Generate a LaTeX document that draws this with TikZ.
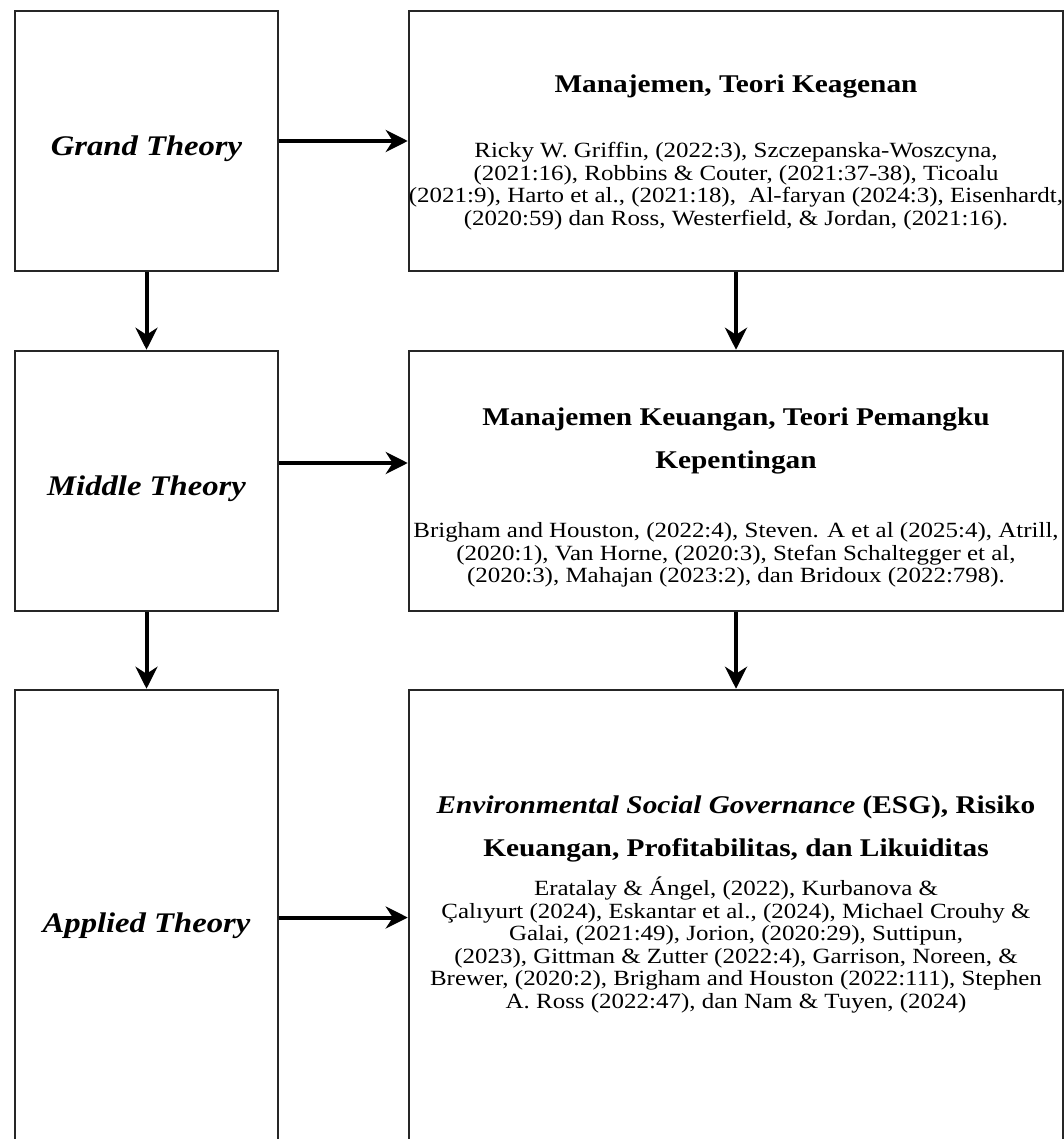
\documentclass[tikz,border=0pt]{standalone}
\usepackage{fontspec}
\setmainfont{Liberation Serif}[FakeStretch=1.15]
\usetikzlibrary{positioning,arrows.meta}
\newcommand{\titlef}{\fontsize{25.5}{28}\selectfont\bfseries}
\newcommand{\bodyf}{\fontsize{21.7}{22.5}\selectfont\lineskiplimit=-50pt}

\tikzset{
  box/.style={draw=black!85, line width=2.5pt, minimum width=263pt,
    minimum height=260pt, inner sep=0pt, align=center},
  lbl/.style={font=\fontsize{28.4}{32}\selectfont\bfseries\itshape,
    text height=35pt, text depth=6pt},
  refbox/.style={box, minimum width=654pt},
  reftxt/.style={inner sep=0pt, align=center, font=\bodyf},
  arr/.style={-{Stealth[length=22pt,width=22pt,inset=7pt]}, line width=4pt},
}

\begin{document}
\begin{tikzpicture}[x=1pt,y=-1pt]
  \useasboundingbox (0,0) rectangle (1064,1139);
  \clip (0,0) rectangle (1064,1139);

  % left column
  \node[box,lbl] (grand) at (146.5,141) {Grand Theory};
  \node[box,lbl] (middle) at (146.5,481) {Middle Theory};
  \node[box,lbl,minimum height=455pt] (applied) at (146.5,917.5) {Applied Theory};

  % right column
  \node[refbox] (grandR) at (736,141) {};
  \node[refbox] (middleR) at (736,481) {};
  \node[refbox,minimum height=455pt] (appliedR) at (736,917.5) {};

  \node[reftxt, below=65pt of grandR.north] (grandT)
    {{\titlef Manajemen, Teori Keagenan}\\[42.5pt]
     Ricky W. Griffin, (2022:3), Szczepanska-Woszcyna,\\
     (2021:16), Robbins \& Couter, (2021:37-38), Ticoalu\\
     (2021:9), Harto et al., (2021:18), \ Al-faryan (2024:3), Eisenhardt,\\
     (2020:59) dan Ross, Westerfield, \& Jordan, (2021:16).};
  \node[reftxt, below=58pt of middleR.north] (middleT)
    {{\titlef Manajemen Keuangan, Teori Pemangku}\\[20.5pt]
     {\titlef Kepentingan}\\[46.5pt]
     Brigham and Houston, (2022:4), Steven. A et al (2025:4), Atrill,\\
     (2020:1), Van Horne, (2020:3), Stefan Schaltegger et al,\\
     (2020:3), Mahajan (2023:2), dan Bridoux (2022:798).};
  \node[reftxt, below=107pt of appliedR.north] (appliedT)
    {{\titlef\itshape Environmental Social Governance\upshape{} (ESG), Risiko}\\[20.5pt]
     {\titlef Keuangan, Profitabilitas, dan Likuiditas}\\[16.5pt]
     Eratalay \& Ángel, (2022), Kurbanova \&\\
     Çalıyurt (2024), Eskantar et al., (2024), Michael Crouhy \&\\
     Galai, (2021:49), Jorion, (2020:29), Suttipun,\\
     (2023), Gittman \& Zutter (2022:4), Garrison, Noreen, \&\\
     Brewer, (2020:2), Brigham and Houston (2022:111), Stephen\\
     A. Ross (2022:47), dan Nam \& Tuyen, (2024)};

  % connectors
  \draw[arr] (grand) -- (grandR);
  \draw[arr] ([yshift=18pt]middle.east) -- ([yshift=18pt]middleR.west);
  \draw[arr] (applied) -- (appliedR);
  \draw[arr] (grand) -- (middle);
  \draw[arr] (middle) -- (applied);
  \draw[arr] (grandR) -- (middleR);
  \draw[arr] (middleR) -- (appliedR);
\end{tikzpicture}
\end{document}
